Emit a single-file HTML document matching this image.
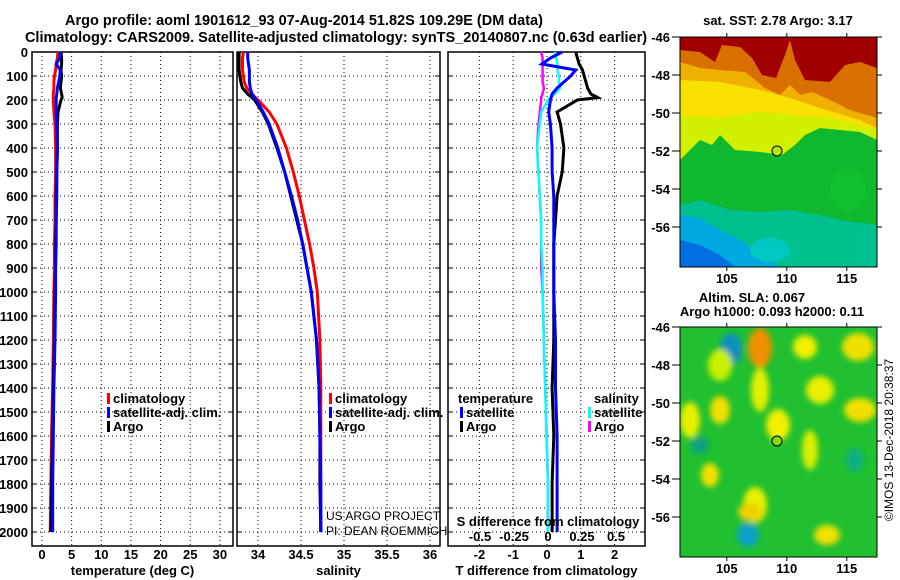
<!DOCTYPE html>
<html><head><meta charset="utf-8">
<style>
body{margin:0;background:#fff;}
svg{display:block;font-family:"Liberation Sans",sans-serif;}
.b{font-weight:bold;font-size:13px;}
.t{font-weight:bold;font-size:14.5px;}
</style></head>
<body>
<svg id="s" width="900" height="580" viewBox="0 0 900 580">
<defs>
<filter id="bl" x="-50%" y="-50%" width="200%" height="200%"><feGaussianBlur stdDeviation="3"/></filter>
<clipPath id="c1"><rect x="680" y="37" width="197" height="230"/></clipPath>
<clipPath id="c2"><rect x="680" y="327" width="197" height="230"/></clipPath>
</defs>
<text class="t" x="304" y="25" text-anchor="middle">Argo profile: aoml 1901612_93 07-Aug-2014 51.82S 109.29E (DM data)</text>
<text class="t" x="336" y="42" text-anchor="middle">Climatology: CARS2009. Satellite-adjusted climatology: synTS_20140807.nc (0.63d earlier)</text>
<g id="plots"></g>
<!-- SST map -->
<g clip-path="url(#c1)">
<rect x="680" y="37" width="197" height="230" fill="#a00000"/>
<path d="M680,50 L700,52 L715,62 L722,45 L740,47 L752,58 L762,75 L776,78 L785,55 L790,40 L795,60 L805,80 L830,82 L845,65 L860,62 L877,68 L877,267 L680,267Z" fill="#d87000"/>
<path d="M680,62 L700,68 L720,70 L745,72 L765,88 L780,95 L790,85 L800,95 L812,92 L830,100 L850,110 L877,118 L877,267 L680,267Z" fill="#f0b000"/>
<path d="M680,80 L720,82 L760,90 L790,98 L820,108 L860,120 L877,128 L877,267 L680,267Z" fill="#f8e000"/>
<path d="M680,115 L720,118 L760,112 L790,115 L830,118 L877,130 L877,267 L680,267Z" fill="#d0f000"/>
<path d="M680,160 L690,150 L700,140 L712,145 L720,135 L735,150 L760,152 L782,155 L795,145 L805,135 L820,128 L840,130 L860,132 L877,140 L877,267 L680,267Z" fill="#10b830"/>
<path d="M680,205 L700,200 L730,210 L760,212 L790,210 L820,215 L840,220 L877,225 L877,267 L680,267Z" fill="#00c090"/>
<path d="M680,215 L700,218 L720,230 L740,240 L760,255 L780,267 L680,267Z" fill="#00a8e0"/>
<path d="M680,240 L700,245 L720,255 L735,267 L680,267Z" fill="#0070e0"/>
<ellipse cx="848" cy="190" rx="18" ry="22" fill="#10c030"/>
<ellipse cx="770" cy="250" rx="20" ry="12" fill="#00c8c0"/>
</g>
<rect x="680" y="37" width="197" height="230" fill="none" stroke="#000"/>
<circle cx="777" cy="151" r="5" fill="#b8e800" stroke="#000"/>
<text class="b" x="778" y="25" text-anchor="middle">sat. SST: 2.78 Argo: 3.17</text>
<!-- SLA map -->
<g clip-path="url(#c2)">
<rect x="680" y="327" width="197" height="230" fill="#20c030"/>
<g filter="url(#bl)">
<ellipse cx="731" cy="349" rx="11" ry="16" fill="#1090c0"/>
<ellipse cx="760" cy="348" rx="12" ry="20" fill="#f09000"/>
<ellipse cx="760" cy="390" rx="9" ry="22" fill="#e0f000"/>
<ellipse cx="805" cy="347" rx="12" ry="12" fill="#f0f000"/>
<ellipse cx="858" cy="347" rx="16" ry="14" fill="#f0e000"/>
<ellipse cx="720" cy="365" rx="12" ry="16" fill="#c8f000"/>
<ellipse cx="720" cy="410" rx="10" ry="14" fill="#f0e000"/>
<ellipse cx="690" cy="420" rx="10" ry="18" fill="#e8f000"/>
<ellipse cx="778" cy="425" rx="12" ry="16" fill="#f0f000"/>
<ellipse cx="820" cy="390" rx="14" ry="14" fill="#e8f000"/>
<ellipse cx="860" cy="410" rx="16" ry="12" fill="#f0e000"/>
<ellipse cx="755" cy="505" rx="12" ry="18" fill="#e8f000"/>
<ellipse cx="750" cy="512" rx="12" ry="9" fill="#f0d000"/>
<ellipse cx="710" cy="475" rx="9" ry="12" fill="#f0e000"/>
<ellipse cx="748" cy="535" rx="11" ry="12" fill="#10a0c8"/>
<ellipse cx="827" cy="535" rx="13" ry="10" fill="#f0e000"/>
<ellipse cx="855" cy="460" rx="9" ry="12" fill="#10b080"/>
<ellipse cx="700" cy="445" rx="9" ry="9" fill="#10a080"/>
<ellipse cx="810" cy="450" rx="8" ry="20" fill="#d8f000"/>
</g>
</g>
<rect x="680" y="327" width="197" height="230" fill="none" stroke="#000"/>
<circle cx="777" cy="441" r="5" fill="#8ad800" stroke="#000"/>
<text class="b" x="752" y="302" text-anchor="middle">Altim. SLA: 0.067</text>
<text class="b" x="772" y="316" text-anchor="middle">Argo h1000: 0.093 h2000: 0.11</text>
<g id="maxes"></g>
<text x="893" y="440" font-size="12" text-anchor="middle" transform="rotate(-90 893 440)">©IMOS 13-Dec-2018 20:38:37</text>
<text x="326" y="520" font-size="12">US ARGO PROJECT</text>
<text x="326" y="535" font-size="12">PI: DEAN ROEMMICH</text>
</svg>
<script>
const depth=[0,25,50,75,100,125,150,175,190,200,250,300,400,500,600,700,800,900,1000,1200,1400,1600,1800,2000];
const tempArgo=[3.2,3.3,3.3,3.2,3.3,3.2,3.1,3.3,3.4,3.2,2.7,2.6,2.6,2.5,2.4,2.4,2.3,2.3,2.2,2.1,1.9,1.8,1.6,1.5];
const tempSat=[3.1,3.0,2.4,3.1,3.0,2.8,2.6,2.5,2.4,2.4,2.4,2.5,2.6,2.5,2.5,2.4,2.4,2.3,2.3,2.2,2.0,1.9,1.8,1.8];
const tempClim=[2.7,2.6,2.4,2.3,2.1,2.0,2.0,1.9,1.9,1.9,2.0,2.2,2.3,2.3,2.2,2.2,2.1,2.1,2.0,1.9,1.8,1.6,1.5,1.4];
const salArgo=[33.78,33.78,33.78,33.78,33.79,33.8,33.82,33.88,33.93,33.96,34.05,34.12,34.22,34.31,34.38,34.45,34.52,34.57,34.62,34.68,34.71,34.72,34.72,34.73];
const salSat=[33.88,33.88,33.89,33.9,33.9,33.9,33.91,33.93,33.96,33.98,34.06,34.13,34.23,34.31,34.39,34.46,34.52,34.57,34.62,34.68,34.71,34.72,34.73,34.73];
const salClim=[33.83,33.82,33.82,33.82,33.83,33.84,33.87,33.93,33.97,34.0,34.13,34.22,34.33,34.41,34.48,34.54,34.6,34.65,34.69,34.72,34.73,34.73,34.73,34.73];
const tDiffArgo=[0.85,0.9,0.95,1.05,1.1,1.15,1.2,1.3,1.5,0.9,0.3,0.4,0.5,0.45,0.3,0.25,0.2,0.2,0.2,0.2,0.15,0.2,0.15,0.15];
const tDiffSat=[0.45,0.1,-0.15,0.85,0.7,0.5,0.3,0.15,0.12,0.1,0.05,0.1,0.15,0.15,0.2,0.2,0.2,0.2,0.2,0.25,0.25,0.3,0.3,0.3];
const sDiffSat=[0.05,0.06,0.07,0.07,0.08,0.08,0.09,0.05,0.02,0.0,-0.05,-0.06,-0.08,-0.07,-0.06,-0.05,-0.05,-0.04,-0.04,-0.03,-0.02,-0.01,0,0];
const sDiffArgo=[-0.05,-0.04,-0.04,-0.04,-0.04,-0.04,-0.03,-0.04,-0.05,-0.05,-0.06,-0.07,-0.08,-0.07,-0.06,-0.05,-0.05,-0.05,-0.04,-0.03,-0.02,-0.01,0,0];
const depthTicks=[0,100,200,300,400,500,600,700,800,900,1000,1100,1200,1300,1400,1500,1600,1700,1800,1900,2000];
const tempTicks=[0,5,10,15,20,25,30];
const salTicks=[34,34.5,35,35.5,36];
const tDiffTicks=[-2,-1,0,1,2];
const sDiffTicks=[-0.5,-0.25,0,0.25,0.5];
const latTicks=[-46,-48,-50,-52,-54,-56];
const lonTicks=[105,110,115];

const NS='http://www.w3.org/2000/svg';
const root=document.getElementById('plots');
function mk(tag,at,par){const e=document.createElementNS(NS,tag);for(const k in at)e.setAttribute(k,at[k]);(par||root).appendChild(e);return e;}
const Y=d=>52+d*0.24;
const pTop=52,pBot=546;
function panel(x0,x1,xs,ticks,name,label,showY){
  const g=mk('g',{});
  
  
  ticks.forEach(t=>{const x=xs(t);
    const l=mk('line',{x1:x,x2:x,y1:pTop,y2:pBot,stroke:'#000','stroke-dasharray':'1,3'},g);
    
    const tx=mk('text',{x:x,y:559,'text-anchor':'middle','class':'b'},g);tx.textContent=t;
    });
  depthTicks.forEach(d=>{const y=Y(d);
    const l=mk('line',{x1:x0,x2:x1,y1:y,y2:y,stroke:'#000','stroke-dasharray':'1,3'},g);
    
    mk('line',{x1:x0,x2:x0+5,y1:y,y2:y,stroke:'#000'},g);mk('line',{x1:x1-5,x2:x1,y1:y,y2:y,stroke:'#000'},g);
    if(showY){const tx=mk('text',{x:x0-4,y:y+5,'text-anchor':'end','class':'b'},g);tx.textContent=d;
      }});
  const r=mk('rect',{x:x0,y:pTop,width:x1-x0,height:pBot-pTop,fill:'none',stroke:'#000','stroke-width':1.5},g);
  
  const t=mk('text',{x:(x0+x1)/2,y:575,'text-anchor':'middle','class':'b'},g);t.textContent=label;
  
  return g;
}
function line(g,xs,vals,color,name,w){
  const p=vals.map((v,i)=>xs(v).toFixed(1)+','+Y(depth[i]).toFixed(1)).join(' ');
  const e=mk('polyline',{points:p,fill:'none',stroke:color,'stroke-width':w||3},g);
  
  
}
function legend(g,x,y,color,txt){
  const r=mk('rect',{x:x,y:y-10,width:3,height:11,fill:color},g);
  
  const t=mk('text',{x:x+6,y:y,'class':'b'},g);t.textContent=txt;
  
}
const xT=v=>42+v*5.93;
const g1=panel(32,233,xT,tempTicks,'temperature-panel','temperature (deg C)',true);
line(g1,xT,tempClim,'#f00','temp-climatology-line');
line(g1,xT,tempArgo,'#000','temp-argo-line');
line(g1,xT,tempSat,'#00f','temp-satellite-line');
legend(g1,107,403,'#f00','climatology');legend(g1,107,417,'#00f','satellite-adj. clim.');legend(g1,107,431,'#000','Argo');
const xS=v=>258+(v-34)*86;
const g2=panel(237,440,xS,salTicks,'salinity-panel','salinity',false);
line(g2,xS,salClim,'#f00','sal-climatology-line');
line(g2,xS,salArgo,'#000','sal-argo-line');
line(g2,xS,salSat,'#00f','sal-satellite-line');
legend(g2,329,403,'#f00','climatology');legend(g2,329,417,'#00f','satellite-adj. clim.');legend(g2,329,431,'#000','Argo');
const xD=v=>547+v*33.8;
const xSD=v=>548+v*136;
const g3=panel(448,645,xD,tDiffTicks,'difference-panel','T difference from climatology',false);
line(g3,xSD,sDiffArgo,'#f0f','sdiff-argo-line',2.5);
line(g3,xSD,sDiffSat,'#0ff','sdiff-satellite-line',2.5);
line(g3,xD,tDiffArgo,'#000','tdiff-argo-line');
line(g3,xD,tDiffSat,'#00f','tdiff-satellite-line');
const st=mk('text',{x:548,y:526,'text-anchor':'middle','class':'b'},g3);st.textContent='S difference from climatology';

sDiffTicks.forEach(t=>{const tx=mk('text',{x:xSD(t),y:541,'text-anchor':'middle','class':'b'},g3);tx.textContent=t;
  });
let tt=mk('text',{x:458,y:403,'class':'b'},g3);tt.textContent='temperature';

tt=mk('text',{x:594,y:403,'class':'b'},g3);tt.textContent='salinity';

legend(g3,460,417,'#00f','satellite');legend(g3,460,431,'#000','Argo');
legend(g3,588,417,'#0ff','satellite');legend(g3,588,431,'#f0f','Argo');
const mg=document.getElementById('maxes');
const lonX=v=>680+(v-101.1)*12;
[[37,267],[327,557]].forEach(([y0,y1])=>{
  latTicks.forEach(l=>{const y=y0+(-46-l)*19;
    mk('line',{x1:672,x2:680,y1:y,y2:y,stroke:'#000'},mg);mk('line',{x1:877,x2:882,y1:y,y2:y,stroke:'#000'},mg);
    const t=mk('text',{x:670,y:y+5,'text-anchor':'end','class':'b'},mg);t.textContent=l;
    });
  lonTicks.forEach(l=>{const x=lonX(l);
    mk('line',{x1:x,x2:x,y1:y0-4,y2:y0,stroke:'#000'},mg);mk('line',{x1:x,x2:x,y1:y1,y2:y1+4,stroke:'#000'},mg);
    const t=mk('text',{x:x,y:y1+16,'text-anchor':'middle','class':'b'},mg);t.textContent=l;
    });
});
</script>
</body></html>
